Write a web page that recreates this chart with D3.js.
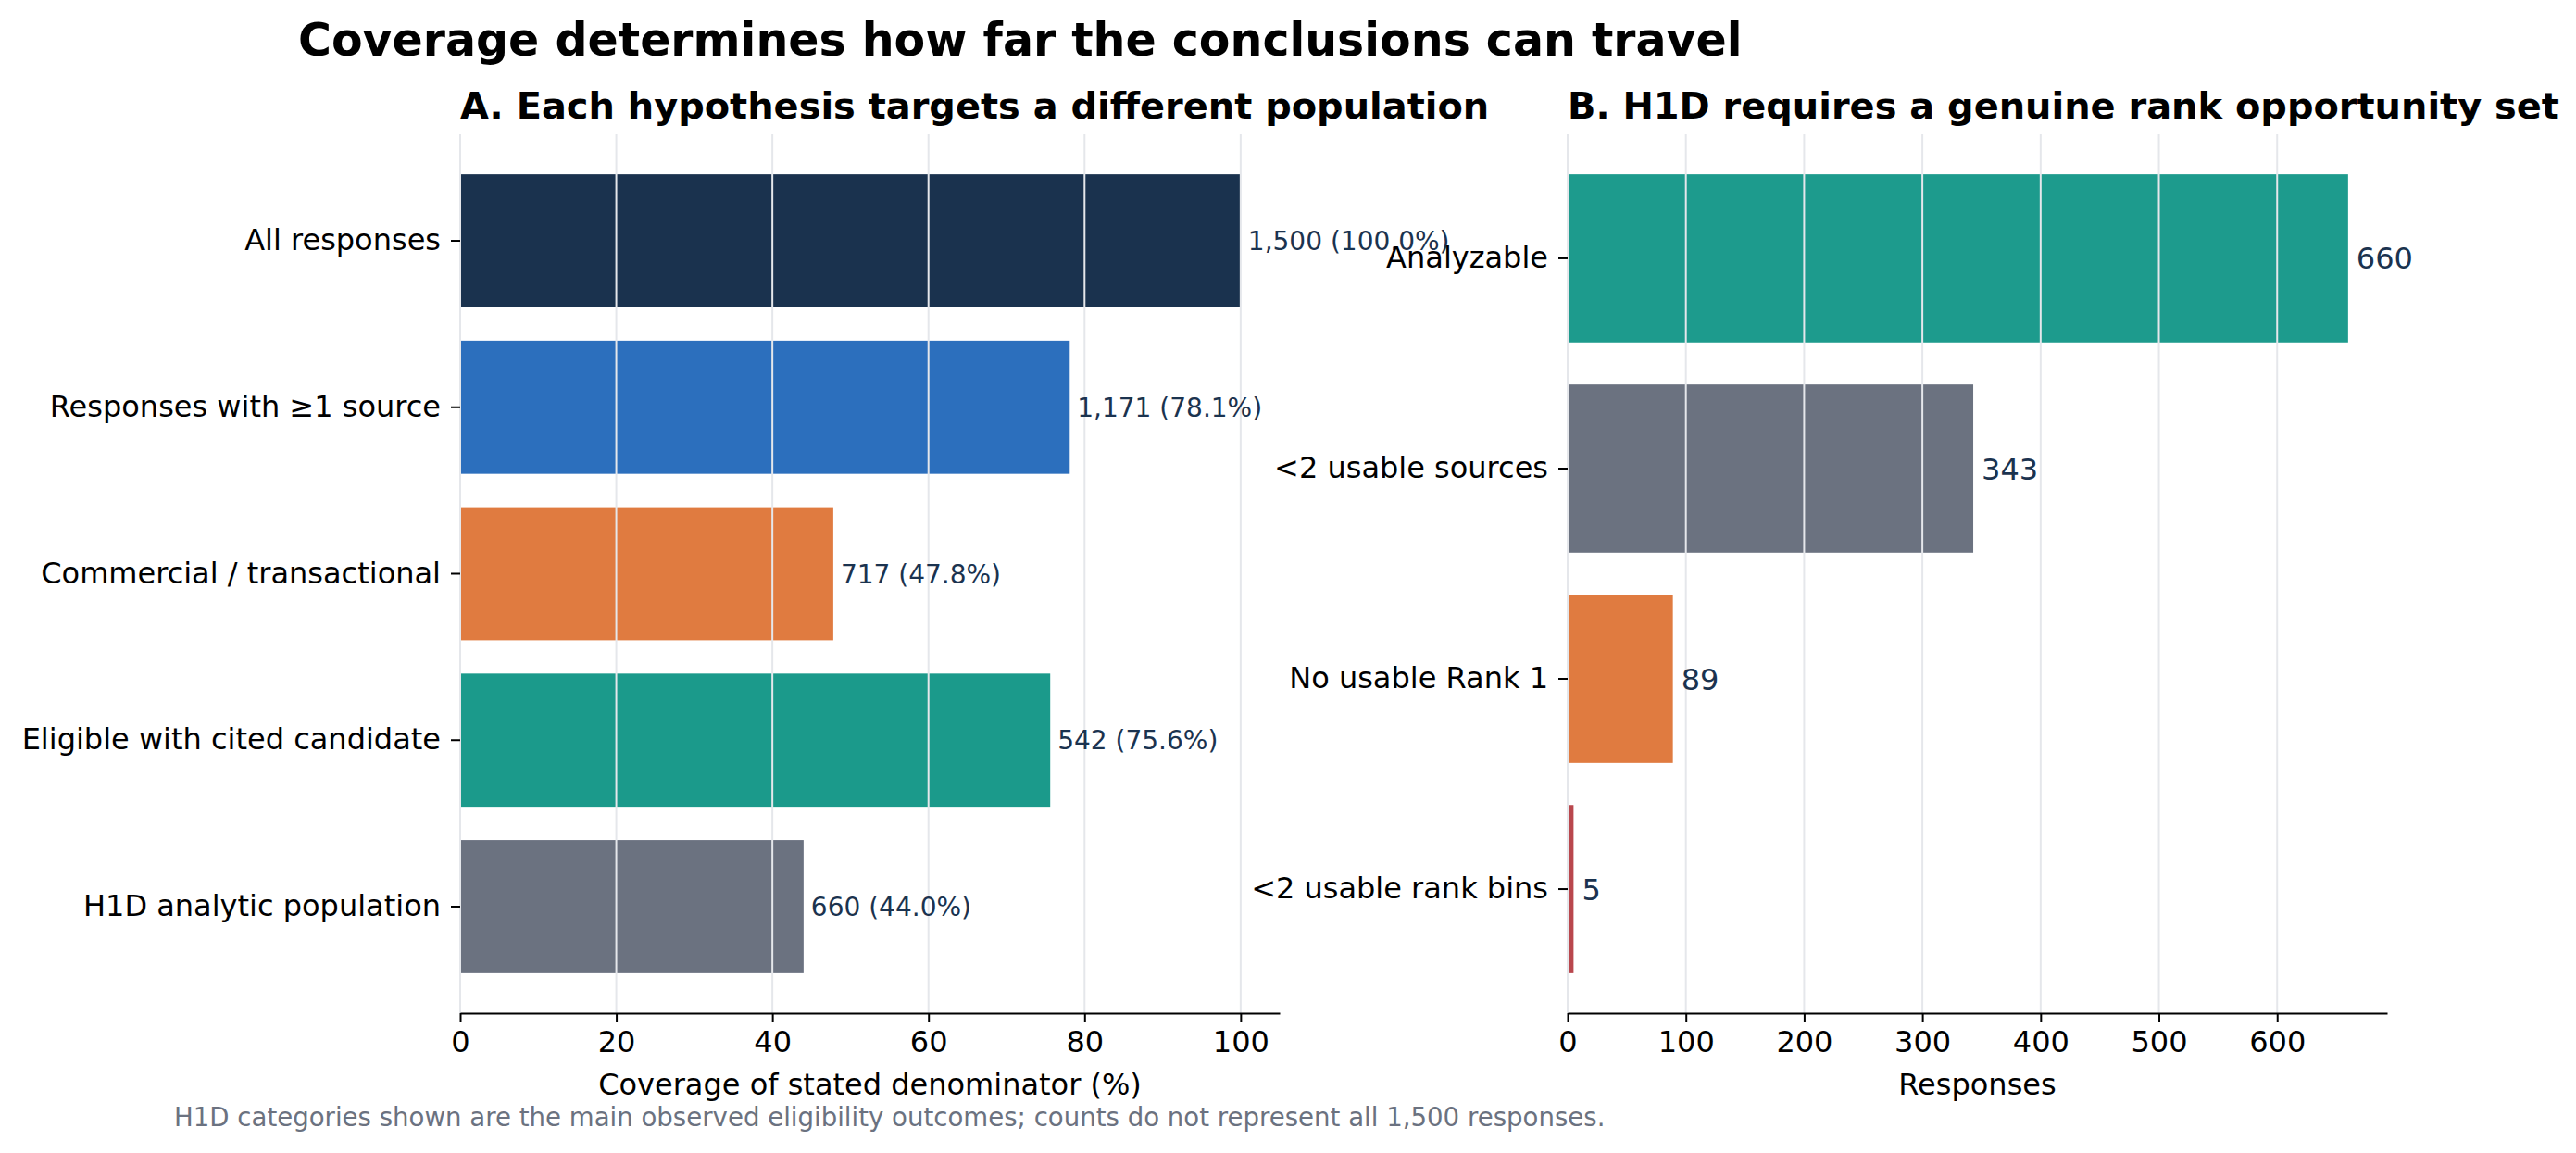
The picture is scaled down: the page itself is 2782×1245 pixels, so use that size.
<!DOCTYPE html>
<html>
<head>
<meta charset="utf-8">
<script src="https://cdn.jsdelivr.net/npm/d3@7/dist/d3.min.js"></script>
<style>
  html, body { margin: 0; padding: 0; background: #ffffff; }
  svg { display: block; font-family: "DejaVu Sans", sans-serif; }
</style>
</head>
<body>
<svg id="chart" width="2782" height="1245"></svg>
<script>
// ---------- data ----------
const titleText = "Coverage determines how far the conclusions can travel";
const subtitleA = "A. Each hypothesis targets a different population";
const subtitleB = "B. H1D requires a genuine rank opportunity set";
const xLabelA = "Coverage of stated denominator (%)";
const xLabelB = "Responses";
const footnote = "H1D categories shown are the main observed eligibility outcomes; counts do not represent all 1,500 responses.";

const categoriesA = ["All responses", "Responses with \u22651 source", "Commercial / transactional", "Eligible with cited candidate", "H1D analytic population"];
const countsA = [1500, 1171, 717, 542, 660];
const percentsA = [100.0, 78.1, 47.8, 75.6, 44.0];
const colorsA = ["#1a324e", "#2c6fbd", "#e07b40", "#1b9a8b", "#6b7280"];
const ticksA = [0, 20, 40, 60, 80, 100];
const domainA = [0, 105];

const categoriesB = ["Analyzable", "<2 usable sources", "No usable Rank 1", "<2 usable rank bins"];
const countsB = [660, 343, 89, 5];
const colorsB = ["#1d9b8d", "#6b7280", "#e07b40", "#b9474d"];
const ticksB = [0, 100, 200, 300, 400, 500, 600];
const domainB = [0, 693];

// ---------- layout ----------
const svg = d3.select("#chart");
const W = 2782, H = 1245;
const plotTop = 145, plotBottom = 1094;
const panelA = { left: 497, right: 1382 };
const panelB = { left: 1693, right: 2578 };

const gridColor = "#e5e7eb";
const valueColor = "#1b334f";

svg.append("rect").attr("width", W).attr("height", H).attr("fill", "#ffffff");

// title
svg.append("text")
  .attr("x", 322).attr("y", 60)
  .attr("font-size", 49).attr("font-weight", "bold").attr("fill", "#000")
  .text(titleText);

function drawPanel(cfg) {
  const n = cfg.categories.length;
  const x = d3.scaleLinear().domain(cfg.domain).range([cfg.left, cfg.right]);
  const y = d3.scaleBand().domain(cfg.categories).range([plotTop, plotBottom])
    .paddingInner(0.2).paddingOuter(0.05 * (n - 0.2));

  const g = svg.append("g");

  // subtitle
  g.append("text")
    .attr("x", cfg.left).attr("y", 128)
    .attr("font-size", 39.9).attr("font-weight", "bold").attr("fill", "#000")
    .text(cfg.subtitle);

  // bars
  g.selectAll("rect.bar").data(cfg.values).join("rect")
    .attr("class", "bar")
    .attr("x", x(0))
    .attr("y", (d, i) => y(cfg.categories[i]))
    .attr("width", d => x(d) - x(0))
    .attr("height", y.bandwidth())
    .attr("fill", (d, i) => cfg.colors[i]);

  // vertical grid (drawn over the bars)
  g.selectAll("line.grid").data(cfg.ticks).join("line")
    .attr("class", "grid")
    .attr("x1", d => x(d)).attr("x2", d => x(d))
    .attr("y1", plotTop).attr("y2", plotBottom)
    .attr("stroke", gridColor).attr("stroke-width", 2);

  // x axis
  const xAxis = d3.axisBottom(x).tickValues(cfg.ticks).tickSize(10).tickSizeOuter(0).tickPadding(9)
    .tickFormat(d3.format("d"));
  const gx = g.append("g").attr("transform", `translate(0,${plotBottom})`).call(xAxis);
  gx.select(".domain").attr("stroke", "#000").attr("stroke-width", 2.2);
  gx.selectAll(".tick line").attr("stroke", "#000").attr("stroke-width", 2);
  gx.selectAll(".tick text").attr("font-size", 32).attr("fill", "#000")
    .attr("font-family", "DejaVu Sans, sans-serif");

  // y axis
  const yAxis = d3.axisLeft(y).tickSize(10).tickPadding(11);
  const gy = g.append("g").attr("transform", `translate(${cfg.left},0)`).call(yAxis);
  gy.select(".domain").remove();
  gy.selectAll(".tick line").attr("stroke", "#000").attr("stroke-width", 2);
  gy.selectAll(".tick text").attr("font-size", 32).attr("fill", "#000")
    .attr("font-family", "DejaVu Sans, sans-serif");

  // x label
  g.append("text")
    .attr("x", (cfg.left + cfg.right) / 2).attr("y", 1182)
    .attr("text-anchor", "middle").attr("font-size", 32).attr("fill", "#000")
    .text(cfg.xLabel);

  // value labels
  g.selectAll("text.val").data(cfg.values).join("text")
    .attr("class", "val")
    .attr("x", d => x(d) + cfg.labelGap)
    .attr("y", (d, i) => y(cfg.categories[i]) + y.bandwidth() / 2)
    .attr("dy", "0.36em")
    .attr("font-size", cfg.labelSize)
    .attr("fill", valueColor)
    .text((d, i) => cfg.labels[i]);
}

drawPanel({
  categories: categoriesA, values: percentsA, colors: colorsA, ticks: ticksA, domain: domainA,
  left: panelA.left, right: panelA.right, subtitle: subtitleA, xLabel: xLabelA,
  labels: countsA.map((c, i) => `${d3.format(",")(c)} (${percentsA[i].toFixed(1)}%)`),
  labelSize: 28, labelGap: 8
});

drawPanel({
  categories: categoriesB, values: countsB, colors: colorsB, ticks: ticksB, domain: domainB,
  left: panelB.left, right: panelB.right, subtitle: subtitleB, xLabel: xLabelB,
  labels: countsB.map(c => d3.format(",")(c)),
  labelSize: 32, labelGap: 9
});

// footnote
svg.append("text")
  .attr("x", 188).attr("y", 1216)
  .attr("font-size", 27.6).attr("fill", "#6b7280")
  .text(footnote);
</script>
</body>
</html>
